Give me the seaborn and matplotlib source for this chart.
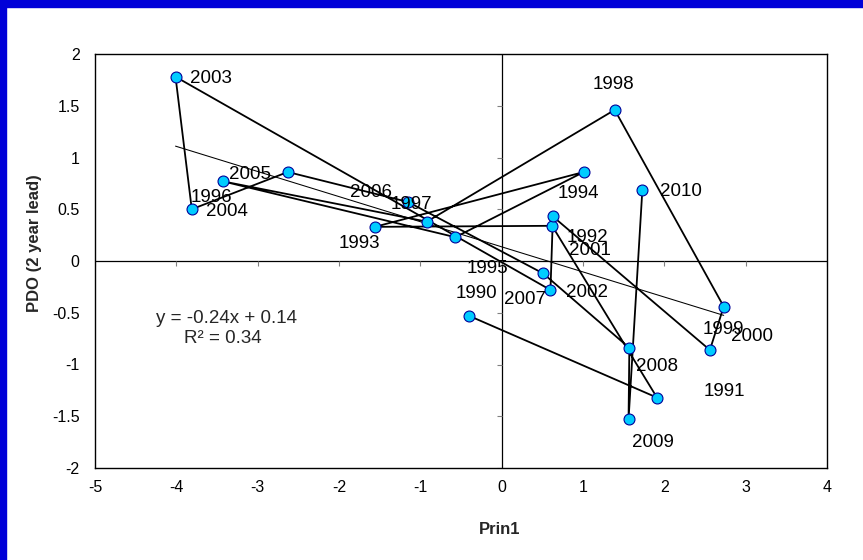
import numpy as np
import pandas as pd
import matplotlib
matplotlib.use("Agg")
import matplotlib.pyplot as plt
import seaborn as sns
from matplotlib.patches import Rectangle

# ---------------- data ----------------
years = list(range(1990, 2011))
prin1 = [-0.40, 1.91, 0.62, -1.56, 1.01, -0.57, -3.43, -0.92, 1.39, 2.73,
         2.56, 0.63, 0.60, -4.01, -3.81, -2.63, -1.15, 0.51, 1.57, 1.56, 1.73]
pdo = [-0.53, -1.32, 0.34, 0.33, 0.86, 0.23, 0.77, 0.38, 1.46, -0.44,
       -0.86, 0.43, -0.28, 1.78, 0.50, 0.86, 0.57, -0.12, -0.84, -1.53, 0.69]
x_ticks = [-5, -4, -3, -2, -1, 0, 1, 2, 3, 4]
y_ticks = [-2, -1.5, -1, -0.5, 0, 0.5, 1, 1.5, 2]
x_label = "Prin1"
y_label = "PDO (2 year lead)"

# label placement (pixel offsets from each point: right, down)
label_offsets = {
    1990: (-14, -22), 1991: (47, -6), 1992: (15, 12), 1993: (-36, 17),
    1994: (-26, 22), 1995: (11, 31), 1996: (-32, 16), 1997: (-36, -17),
    1998: (-22, -25), 1999: (-21, 23), 2000: (21, -14), 2001: (16, 34),
    2002: (16, 3), 2003: (14, 2), 2004: (14, 2), 2005: (-59, 3),
    2006: (-58, -10), 2007: (-39, 26), 2008: (7, 19), 2009: (3, 23),
    2010: (18, 2),
}

df = pd.DataFrame({"year": years, "prin1": prin1, "pdo": pdo})

# ---------------- style ----------------
sns.set_theme(style="white")
plt.rcParams["font.family"] = ["Liberation Sans", "DejaVu Sans"]
plt.rcParams["axes.unicode_minus"] = False

W, H = 863, 560
fig = plt.figure(figsize=(W / 100, H / 100), dpi=100)
fig.patch.set_facecolor("white")

# blue frame on top and left edges
blue = "#0000D8"
fig.patches.append(Rectangle((0, 1 - 7 / H), 1, 7 / H, transform=fig.transFigure,
                             color=blue, zorder=0))
fig.patches.append(Rectangle((0, 0), 6 / W, 1, transform=fig.transFigure,
                             color=blue, zorder=0))

left, right, top, bottom = 95, 827, 54, 468
ax = fig.add_axes([left / W, 1 - bottom / H, (right - left) / W, (bottom - top) / H])
ax.set_facecolor("white")

# zero cross lines
ax.axhline(0, color="black", lw=0.9, zorder=1)
ax.axvline(0, color="black", lw=0.9, zorder=1)
# small tick marks along the zero lines
ax.vlines(x_ticks, 0, -0.045, color="#808080", lw=0.8, zorder=1)
ax.hlines(y_ticks, 0, -0.055, color="#808080", lw=0.8, zorder=1)

# trend line
sns.regplot(data=df, x="prin1", y="pdo", scatter=False, ci=None, truncate=True,
            line_kws=dict(color="black", lw=0.75), ax=ax)

# path in year order
sns.lineplot(data=df, x="prin1", y="pdo", sort=False, estimator=None,
             color="black", lw=1.3, ax=ax, zorder=2)
# markers
sns.scatterplot(data=df, x="prin1", y="pdo", s=62, color="#00CCFF",
                edgecolor="#000099", linewidth=0.8, ax=ax, zorder=3)

for yr, xv, yv in zip(years, prin1, pdo):
    dx, dy = label_offsets[yr]
    ax.annotate(str(yr), (xv, yv), xytext=(dx, -dy), textcoords="offset pixels",
                ha="left", va="center", fontsize=13.5, color="black", zorder=4)

# regression equation
slope, intercept = np.polyfit(prin1, pdo, 1)
r2 = np.corrcoef(prin1, pdo)[0, 1] ** 2
sign = "+" if intercept >= 0 else "-"
ax.text(0.179, 0.362, f"y = {slope:.2f}x {sign} {abs(intercept):.2f}",
        transform=ax.transAxes, ha="center", va="center", fontsize=13.5)
ax.text(0.175, 0.314, f"R² = {r2:.2f}", transform=ax.transAxes,
        ha="center", va="center", fontsize=13.5)

ax.set_xlim(-5, 4)
ax.set_ylim(-2, 2)
ax.set_xticks(x_ticks)
ax.set_yticks(y_ticks)
ax.set_xticklabels([f"{t:g}" for t in x_ticks])
ax.set_yticklabels([f"{t:g}" for t in y_ticks])
ax.tick_params(axis="both", length=0, labelsize=11.5, colors="black")
ax.tick_params(axis="x", pad=9)
ax.tick_params(axis="y", pad=11)

for sp in ax.spines.values():
    sp.set_visible(True)
    sp.set_color("black")
    sp.set_linewidth(1.0)

ax.set_xlabel(x_label, fontsize=12, fontweight="bold", va="center")
ax.set_ylabel(y_label, fontsize=12, fontweight="bold", va="center")
ax.xaxis.set_label_coords((500 - left) / (right - left), (bottom - 530) / (bottom - top))
ax.yaxis.set_label_coords((35 - left) / (right - left), (bottom - 243) / (bottom - top))

fig.savefig("out.png", dpi=100, facecolor=fig.get_facecolor())
